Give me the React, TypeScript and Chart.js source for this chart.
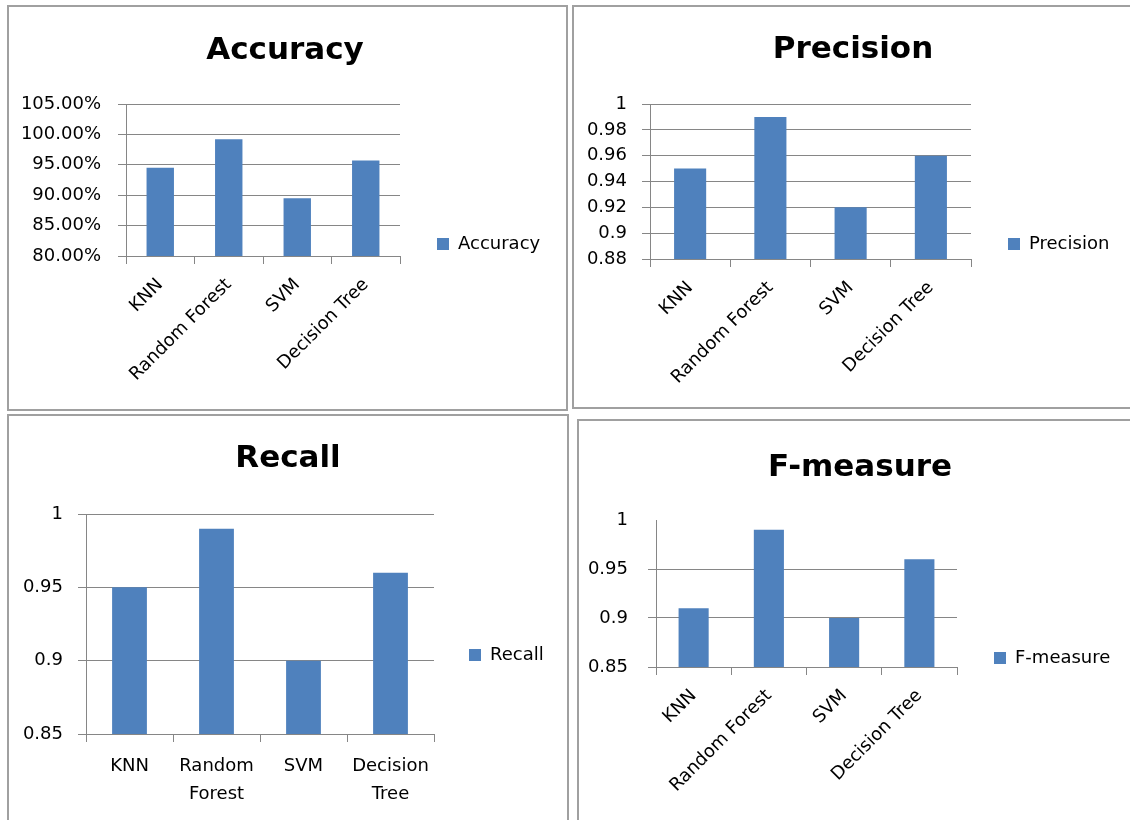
import React, { useEffect, useRef } from 'react';
import { Chart, registerables } from 'chart.js';

Chart.register(...registerables);

// ---------- data ----------
const CATEGORIES = ['KNN', 'Random Forest', 'SVM', 'Decision Tree'];
const RECALL_CATEGORIES: (string | string[])[] = ['KNN', ['Random', 'Forest'], 'SVM', ['Decision', 'Tree']];

const ACCURACY = [0.945, 0.992, 0.895, 0.957];
const PRECISION = [0.95, 0.99, 0.92, 0.96];
const RECALL = [0.95, 0.99, 0.9, 0.96];
const F_MEASURE = [0.91, 0.99, 0.9, 0.96];

const ACCURACY_TICKS = [0.8, 0.85, 0.9, 0.95, 1.0, 1.05];
const ACCURACY_TICK_LABELS = ['80.00%', '85.00%', '90.00%', '95.00%', '100.00%', '105.00%'];
const PRECISION_TICKS = [0.88, 0.9, 0.92, 0.94, 0.96, 0.98, 1];
const PRECISION_TICK_LABELS = ['0.88', '0.9', '0.92', '0.94', '0.96', '0.98', '1'];
const RECALL_TICKS = [0.85, 0.9, 0.95, 1];
const RECALL_TICK_LABELS = ['0.85', '0.9', '0.95', '1'];
const F_MEASURE_TICKS = [0.85, 0.9, 0.95, 1];
const F_MEASURE_TICK_LABELS = ['0.85', '0.9', '0.95', '1'];

// ---------- styles ----------
const FONT = '"DejaVu Sans", sans-serif';
const BAR = '#4F81BD';
const GRID = '#868686';
const FRAME = '#a0a0a0';
const TICK_SIZE = 18;
const LEGEND_SIZE = 18;
const TITLE_SIZE = 31;
const BOX = 12;

type Spec = {
  title: string;
  series: string;
  labels: (string | string[])[];
  values: number[];
  ticks: number[];
  tickLabels: string[];
  rotate: boolean;
  hideTopGrid: boolean;
  frame: { x: number; y: number; w: number; h: number };
  plot: { l: number; r: number; t: number; b: number };
  titleX: number;
  titleY: number;
  legendX: number;
  legendY: number;
  yPad: number;
  xPad: number;
};

const PANELS: Spec[] = [
  {
    title: 'Accuracy', series: 'Accuracy', labels: CATEGORIES, values: ACCURACY,
    ticks: ACCURACY_TICKS, tickLabels: ACCURACY_TICK_LABELS, rotate: true, hideTopGrid: false,
    frame: { x: 7, y: 5, w: 561, h: 406 },
    plot: { l: 126, r: 400, t: 104, b: 256 },
    titleX: 285, titleY: 51, legendX: 437, legendY: 244, yPad: 17, xPad: 8,
  },
  {
    title: 'Precision', series: 'Precision', labels: CATEGORIES, values: PRECISION,
    ticks: PRECISION_TICKS, tickLabels: PRECISION_TICK_LABELS, rotate: true, hideTopGrid: false,
    frame: { x: 572, y: 5, w: 565, h: 404 },
    plot: { l: 650, r: 971, t: 104, b: 259 },
    titleX: 853, titleY: 50, legendX: 1008, legendY: 244, yPad: 15, xPad: 8,
  },
  {
    title: 'Recall', series: 'Recall', labels: RECALL_CATEGORIES, values: RECALL,
    ticks: RECALL_TICKS, tickLabels: RECALL_TICK_LABELS, rotate: false, hideTopGrid: false,
    frame: { x: 7, y: 414, w: 562, h: 430 },
    plot: { l: 86, r: 434, t: 514, b: 734 },
    titleX: 288, titleY: 459, legendX: 469, legendY: 655, yPad: 15, xPad: 10,
  },
  {
    title: 'F-measure', series: 'F-measure', labels: CATEGORIES, values: F_MEASURE,
    ticks: F_MEASURE_TICKS, tickLabels: F_MEASURE_TICK_LABELS, rotate: true, hideTopGrid: true,
    frame: { x: 577, y: 419, w: 570, h: 430 },
    plot: { l: 656, r: 957, t: 520, b: 667 },
    titleX: 860, titleY: 468, legendX: 994, legendY: 658, yPad: 20, xPad: 8,
  },
];

function Panel({ spec }: { spec: Spec }) {
  const ref = useRef<HTMLCanvasElement | null>(null);
  const ox = spec.frame.x;
  const oy = spec.frame.y;
  // canvas spans symmetric around the title centre so the title is centred there
  const W = Math.round(2 * (spec.titleX - ox));
  // legend is centred vertically in the canvas
  const H = Math.round(2 * (spec.legendY - oy));

  useEffect(() => {
    const canvas = ref.current;
    if (!canvas) return;
    const plotL = spec.plot.l - ox;
    const plotR = spec.plot.r - ox;
    const plotT = spec.plot.t - oy;
    const plotB = spec.plot.b - oy;
    const legendPad = spec.legendX - spec.plot.r;
    const legendW = W - plotR;
    const titleLH = TITLE_SIZE * 1.2;
    const tPadTop = spec.titleY - oy - titleLH / 2;
    const tPadBottom = plotT - tPadTop - titleLH;
    const yMin = spec.ticks[0];
    const yMax = spec.ticks[spec.ticks.length - 1];
    const rot = spec.rotate ? 45 : 0;

    const legendWidthPlugin = {
      id: 'fixedLegendWidth',
      beforeLayout(chart: any) {
        const lg = chart.legend;
        if (lg && !lg.__fixedWidth) {
          const orig = lg.fit.bind(lg);
          lg.fit = function () {
            orig();
            this.width = legendW;
          };
          lg.__fixedWidth = true;
        }
      },
    };

    const chart = new Chart(canvas, {
      type: 'bar',
      data: {
        labels: spec.labels as any,
        datasets: [
          {
            label: spec.series,
            data: spec.values,
            backgroundColor: BAR,
            borderWidth: 0,
            barPercentage: 0.4,
            categoryPercentage: 1,
          },
        ],
      },
      plugins: [legendWidthPlugin],
      options: {
        responsive: false,
        animation: false,
        devicePixelRatio: 1,
        layout: { padding: 0, autoPadding: false },
        plugins: {
          title: {
            display: true,
            text: spec.title,
            color: '#000',
            font: { family: FONT, size: TITLE_SIZE, weight: 'bold', lineHeight: 1.2 },
            padding: { top: tPadTop, bottom: tPadBottom },
          },
          legend: {
            display: true,
            position: 'right',
            align: 'center',
            labels: {
              boxWidth: BOX,
              boxHeight: BOX,
              padding: legendPad,
              color: '#000',
              font: { family: FONT, size: LEGEND_SIZE },
            },
          },
          tooltip: { enabled: false },
        },
        scales: {
          x: {
            offset: true,
            grid: {
              display: true,
              offset: true,
              drawOnChartArea: false,
              drawTicks: true,
              tickLength: 8,
              color: GRID,
            },
            border: { display: true, color: GRID },
            ticks: {
              autoSkip: false,
              minRotation: rot,
              maxRotation: rot,
              padding: spec.xPad,
              color: '#000',
              font: { family: FONT, size: TICK_SIZE, lineHeight: 1.55 },
            },
            afterFit: (s: any) => {
              s.height = H - plotB;
            },
          },
          y: {
            min: yMin,
            max: yMax,
            afterBuildTicks: (s: any) => {
              s.ticks = spec.ticks.map((v) => ({ value: v }));
            },
            ticks: {
              autoSkip: false,
              padding: spec.yPad,
              color: '#000',
              font: { family: FONT, size: TICK_SIZE },
              callback: (_v: any, i: number) => spec.tickLabels[i],
            },
            grid: {
              drawTicks: true,
              tickLength: 8,
              color: (c: any) =>
                spec.hideTopGrid && c.tick && Math.abs(c.tick.value - yMax) < 1e-9 ? 'rgba(0,0,0,0)' : GRID,
            },
            border: { display: true, color: GRID },
            afterFit: (s: any) => {
              s.width = plotL;
            },
          },
        },
      } as any,
    });
    return () => chart.destroy();
  }, [spec]);

  return (
    <>
      <canvas
        ref={ref}
        width={W}
        height={H}
        style={{ position: 'absolute', left: ox, top: oy, width: W, height: H }}
      />
      <div
        style={{
          position: 'absolute',
          left: spec.frame.x,
          top: spec.frame.y,
          width: spec.frame.w,
          height: spec.frame.h,
          border: `2px solid ${FRAME}`,
          boxSizing: 'border-box',
          pointerEvents: 'none',
        }}
      />
    </>
  );
}

export default function App() {
  return (
    <div
      style={{
        position: 'absolute',
        left: 0,
        top: 0,
        width: 1130,
        height: 820,
        overflow: 'hidden',
        background: '#fff',
      }}
    >
      {PANELS.map((p) => (
        <Panel key={p.title} spec={p} />
      ))}
    </div>
  );
}
